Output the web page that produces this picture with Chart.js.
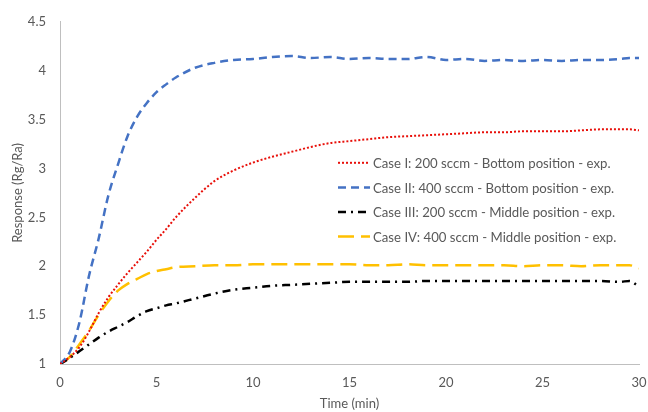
<!DOCTYPE html>
<html lang="en">
<head>
  <meta charset="UTF-8">
  <title>Response vs Time</title>
  <script src="https://cdn.jsdelivr.net/npm/chart.js"></script>
  <style>
    * { box-sizing: border-box; margin: 0; padding: 0; }
    html, body { background: #FFFFFF; }
    .wrap { position: relative; width: 648px; height: 412px; }
    canvas { display: block; }
  </style>
</head>
<body>
  <div class="wrap"><canvas id="chart" width="648" height="412"></canvas></div>

  <script>
    // time axis (min)
    const times = [0, 0.5, 1, 1.5, 2, 2.5, 3, 3.5, 4, 4.5, 5, 5.5, 6, 7, 8, 9, 10, 11, 12, 13, 14, 15,
                   16, 17, 18, 19, 20, 21, 22, 23, 24, 25, 26, 27, 28, 29, 29.5, 30];

    const caseI = [1.00, 1.07, 1.17, 1.33, 1.52, 1.68, 1.81, 1.93, 2.04, 2.15, 2.27, 2.38, 2.50, 2.70, 2.87, 2.98, 3.06, 3.12, 3.17, 3.22, 3.26, 3.28,
                   3.30, 3.32, 3.33, 3.34, 3.35, 3.36, 3.37, 3.37, 3.38, 3.38, 3.38, 3.39, 3.40, 3.40, 3.40, 3.39];

    const caseII = [1.00, 1.12, 1.42, 1.90, 2.28, 2.72, 3.04, 3.33, 3.53, 3.67, 3.78, 3.86, 3.93, 4.03, 4.08, 4.11, 4.12, 4.14, 4.15, 4.13, 4.14, 4.12,
                    4.13, 4.12, 4.12, 4.14, 4.11, 4.12, 4.10, 4.11, 4.10, 4.11, 4.10, 4.11, 4.11, 4.12, 4.13, 4.13];

    const caseIII = [1.00, 1.06, 1.13, 1.20, 1.27, 1.33, 1.38, 1.43, 1.49, 1.54, 1.57, 1.60, 1.62, 1.67, 1.72, 1.76, 1.78, 1.80, 1.81, 1.82, 1.83, 1.84,
                     1.84, 1.84, 1.84, 1.85, 1.85, 1.85, 1.85, 1.85, 1.85, 1.85, 1.85, 1.85, 1.85, 1.84, 1.85, 1.79];

    const caseIV = [1.00, 1.07, 1.20, 1.34, 1.50, 1.64, 1.75, 1.82, 1.87, 1.92, 1.95, 1.97, 1.99, 2.00, 2.01, 2.01, 2.02, 2.02, 2.02, 2.02, 2.02, 2.02,
                    2.01, 2.01, 2.02, 2.01, 2.01, 2.01, 2.01, 2.01, 2.00, 2.01, 2.01, 2.00, 2.01, 2.01, 2.01, 1.98];

    const seriesLabels = [
      'Case I: 200 sccm - Bottom position - exp.',
      'Case II: 400 sccm - Bottom position - exp.',
      'Case III: 200 sccm - Middle position - exp.',
      'Case IV: 400 sccm - Middle position - exp.'
    ];

    const textColor = '#595959';
    const fontFamily = "Lato, 'Open Sans', sans-serif";

    const toPoints = ys => times.map((t, i) => ({ x: t, y: ys[i] }));

    function line(label, ys, color, dash, width) {
      return {
        label,
        data: toPoints(ys),
        borderColor: color,
        backgroundColor: color,
        borderDash: dash,
        borderWidth: width,
        pointRadius: 0,
        fill: false,
        cubicInterpolationMode: 'monotone'
      };
    }

    // legend drawn inside the plot, Excel style
    const insideLegend = {
      id: 'insideLegend',
      afterDatasetsDraw(chart) {
        const { ctx, chartArea } = chart;
        const x0 = chartArea.left + 278;
        const y0 = chartArea.top + 141;
        const rowH = 24.6;
        ctx.save();
        ctx.font = '13.2px ' + fontFamily;
        ctx.textBaseline = 'middle';
        ctx.textAlign = 'left';
        chart.data.datasets.forEach((ds, i) => {
          const y = y0 + i * rowH;
          ctx.beginPath();
          ctx.strokeStyle = ds.borderColor;
          ctx.lineWidth = ds.borderWidth;
          ctx.setLineDash(ds.borderDash || []);
          ctx.moveTo(x0, y);
          ctx.lineTo(x0 + 32, y);
          ctx.stroke();
          ctx.setLineDash([]);
          ctx.fillStyle = textColor;
          ctx.fillText(ds.label, x0 + 35, y + 1);
        });
        ctx.restore();
      }
    };

    new Chart(document.getElementById('chart'), {
      type: 'line',
      plugins: [insideLegend],
      data: {
        datasets: [
          line(seriesLabels[0], caseI, '#E8100A', [2, 2], 2),
          line(seriesLabels[1], caseII, '#4472C4', [8, 5], 2.5),
          line(seriesLabels[2], caseIII, '#000000', [8, 5, 2, 5], 2.5),
          line(seriesLabels[3], caseIV, '#FFC000', [16, 7], 2.5)
        ]
      },
      options: {
        responsive: false,
        animation: false,
        layout: { padding: { top: 19, right: 9, left: 0, bottom: 0 } },
        plugins: {
          legend: { display: false },
          tooltip: { enabled: false }
        },
        scales: {
          x: {
            type: 'linear',
            min: 0,
            max: 30,
            ticks: { stepSize: 5, color: textColor, padding: 11, font: { family: fontFamily, size: 13 } },
            grid: { display: false, drawTicks: false },
            border: { display: true, color: '#BFBFBF', width: 1 },
            title: {
              display: true,
              text: 'Time (min)',
              color: textColor,
              font: { family: fontFamily, size: 13 },
              padding: { top: 4, bottom: 0 }
            },
            afterFit: s => { s.height = 48; s.paddingRight = 0; s.paddingLeft = 0; }
          },
          y: {
            min: 1,
            max: 4.5,
            ticks: {
              stepSize: 0.5,
              color: textColor,
              padding: 14,
              font: { family: fontFamily, size: 13 },
              callback: v => String(v)
            },
            grid: { display: false, drawTicks: false },
            border: { display: true, color: '#BFBFBF', width: 1 },
            title: {
              display: true,
              text: 'Response (Rg/Ra)',
              color: textColor,
              font: { family: fontFamily, size: 13 },
              padding: { top: 10, bottom: 0 }
            },
            afterFit: s => { s.width = 60; }
          }
        }
      }
    });
  </script>
</body>
</html>
